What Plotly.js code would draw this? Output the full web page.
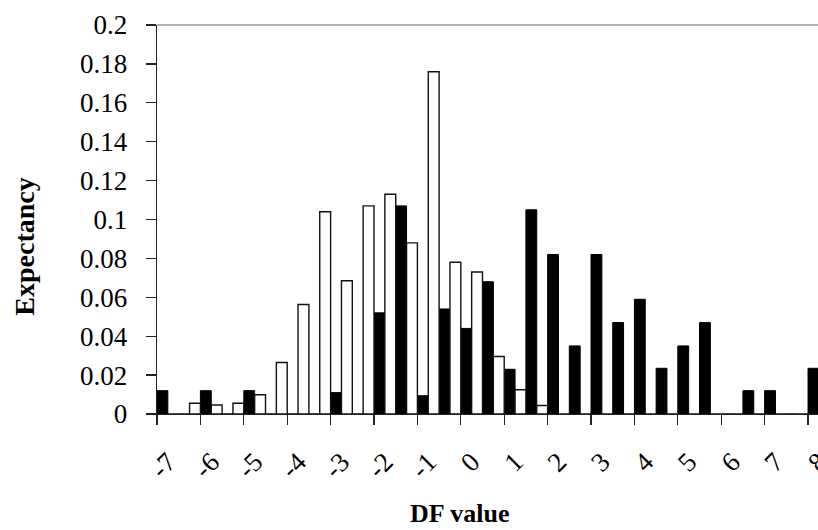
<!DOCTYPE html>
<html>
<head>
<meta charset="utf-8">
<script src="https://cdn.plot.ly/plotly-3.0.1.min.js"></script>
<style>
  html, body { margin: 0; padding: 0; background: #fff; }
  #chart { width: 818px; height: 530px; }
</style>
</head>
<body>
<div id="chart"></div>
<script>
// DF value bins (width 0.5)
const dfBins = [-7, -6.5, -6, -5.5, -5, -4.5, -4, -3.5, -3, -2.5, -2, -1.5, -1, -0.5, 0,
                0.5, 1, 1.5, 2, 2.5, 3, 3.5, 4, 4.5, 5, 5.5, 6, 6.5, 7, 7.5, 8];
// Black series
const blackValues = [0.012, 0, 0.012, 0, 0.012, 0, 0, 0, 0.011, 0, 0.052, 0.107, 0.0094, 0.054, 0.044,
                     0.068, 0.023, 0.105, 0.082, 0.035, 0.082, 0.047, 0.059, 0.0235, 0.035, 0.047, 0, 0.012, 0.012, 0, 0.0235];
// White series
const whiteValues = [0, 0.0055, 0.0046, 0.0055, 0.0099, 0.0265, 0.0563, 0.104, 0.0685, 0.107, 0.113, 0.088, 0.176, 0.078, 0.073,
                     0.0296, 0.0125, 0.0044, 0, 0, 0, 0, 0, 0, 0, 0, 0, 0, 0, 0, 0];
// Axis ticks
const xTickVals = [-7, -6, -5, -4, -3, -2, -1, 0, 1, 2, 3, 4, 5, 6, 7, 8];
const xTickText = ['-7', '-6', '-5', '-4', '-3', '-2', '-1', '0', '1', '2', '3', '4', '5', '6', '7', '8'];
const yTickVals = [0, 0.02, 0.04, 0.06, 0.08, 0.1, 0.12, 0.14, 0.16, 0.18, 0.2];
const yTickText = ['0', '0.02', '0.04', '0.06', '0.08', '0.1', '0.12', '0.14', '0.16', '0.18', '0.2'];

const serif = 'Liberation Serif, Times New Roman, serif';

const traces = [
  {
    type: 'bar', x: dfBins, y: blackValues, width: 0.25, offset: 0,
    marker: { color: '#000', line: { color: '#000', width: 1 } },
    showlegend: false, hoverinfo: 'x+y'
  },
  {
    type: 'bar', x: dfBins, y: whiteValues, width: 0.25, offset: 0.25,
    marker: { color: '#fff', line: { color: '#111', width: 1.4 } },
    showlegend: false, hoverinfo: 'x+y'
  }
];

const layout = {
  width: 818, height: 530,
  margin: { l: 157, r: 0, t: 25, b: 116 },
  paper_bgcolor: '#fff', plot_bgcolor: '#fff',
  barmode: 'overlay',
  font: { family: serif, color: '#000', size: 27 },
  xaxis: {
    range: [-7, 8.23], tickvals: xTickVals, ticktext: xTickText,
    tickangle: -45, ticks: 'outside', ticklen: 10, tickwidth: 1.3, tickcolor: '#222',
    showline: true, linecolor: '#222', linewidth: 1.3, showgrid: false, zeroline: false,
    tickfont: { family: serif, size: 27, color: '#000' },
    ticklabelshift: 11, ticklabelstandoff: 10, ticklabeloverflow: 'allow'
  },
  yaxis: {
    range: [0, 0.2], tickvals: yTickVals, ticktext: yTickText,
    ticks: 'outside', ticklen: 10, tickwidth: 1.3, tickcolor: '#222',
    showline: true, linecolor: '#222', linewidth: 1.3, showgrid: false, zeroline: false,
    tickfont: { family: serif, size: 27, color: '#000' },
    ticklabelstandoff: 13
  },
  shapes: [
    { type: 'line', xref: 'paper', yref: 'paper', x0: 0, x1: 1, y0: 1, y1: 1,
      line: { color: '#9a9a9a', width: 1.5 } }
  ],
  annotations: [
    { text: '<b>Expectancy</b>', xref: 'paper', yref: 'paper', x: -0.1997, y: 0.43,
      xanchor: 'center', yanchor: 'middle', textangle: -90, showarrow: false,
      font: { family: serif, size: 28, color: '#000' } },
    { text: '<b>DF value</b>', xref: 'paper', yref: 'paper', x: 0.457, y: -0.257,
      xanchor: 'center', yanchor: 'middle', showarrow: false,
      font: { family: serif, size: 26, color: '#000' } }
  ]
};

Plotly.newPlot('chart', traces, layout, { displayModeBar: false, staticPlot: true });
</script>
</body>
</html>
